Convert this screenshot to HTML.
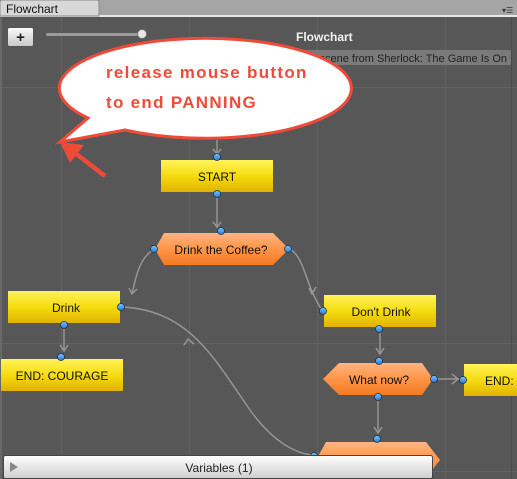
<!DOCTYPE html>
<html><head><meta charset="utf-8"><style>
body{margin:0;width:517px;height:479px;overflow:hidden;background:#575757;font-family:"Liberation Sans",sans-serif}
</style></head><body>
<svg width="517" height="479" viewBox="0 0 517 479" xmlns="http://www.w3.org/2000/svg" style="position:absolute;left:0;top:0">
<defs>
<linearGradient id="y" x1="0" y1="0" x2="0" y2="1"><stop offset="0" stop-color="#fff35a"/><stop offset="0.5" stop-color="#f5dc10"/><stop offset="1" stop-color="#e0b200"/></linearGradient>
<linearGradient id="o" x1="0" y1="0" x2="0" y2="1"><stop offset="0" stop-color="#ffb482"/><stop offset="0.5" stop-color="#ff9548"/><stop offset="1" stop-color="#f47a22"/></linearGradient>
<linearGradient id="b" x1="0" y1="0" x2="0" y2="1"><stop offset="0" stop-color="#7cc4ff"/><stop offset="1" stop-color="#1f7de0"/></linearGradient>
<linearGradient id="v" x1="0" y1="0" x2="0" y2="1"><stop offset="0" stop-color="#ffffff"/><stop offset="1" stop-color="#cfcfcf"/></linearGradient>
<linearGradient id="btn" x1="0" y1="0" x2="0" y2="1"><stop offset="0" stop-color="#fafafa"/><stop offset="1" stop-color="#c8c8c8"/></linearGradient>
</defs>
<rect width="517" height="479" fill="#575757"/>
<g stroke="#626262" stroke-width="1">
<line x1="61.5" y1="16" x2="61.5" y2="479"/><line x1="189.5" y1="16" x2="189.5" y2="479"/><line x1="317.5" y1="16" x2="317.5" y2="479"/><line x1="445.5" y1="16" x2="445.5" y2="479"/>
<line x1="0" y1="87.5" x2="517" y2="87.5"/><line x1="0" y1="343.5" x2="517" y2="343.5"/><line x1="0" y1="471.5" x2="517" y2="471.5"/>
</g>
<line x1="1" y1="16" x2="1" y2="479" stroke="#7a7a7a"/>
<line x1="511.5" y1="16" x2="511.5" y2="479" stroke="#4a4a4a"/>
<rect x="0" y="0" width="517" height="16" fill="#a5a5a5"/>
<rect x="0" y="15" width="517" height="2" fill="#e8e8e8"/>
<path d="M0 16 V2 Q0 0 2 0 H97 Q99 0 99 2 V16 Z" fill="#d8d8d8" stroke="#8a8a8a"/>
<text x="6" y="13" font-size="12" fill="#111">Flowchart</text>
<text x="502" y="13" font-size="8" fill="#333">▾☰</text>
<rect x="7.5" y="27.5" width="26" height="19" rx="2" fill="url(#btn)" stroke="#555"/>
<text x="20.5" y="42" font-size="15" font-weight="bold" text-anchor="middle" fill="#222">+</text>
<rect x="46" y="33" width="96" height="3" rx="1.5" fill="#9a9a9a"/>
<circle cx="142" cy="34" r="4.5" fill="#e8e8e8" stroke="#777"/>
<text x="296" y="41" font-size="12" font-weight="bold" fill="#f2f2f2">Flowchart</text>
<rect x="300" y="50" width="211" height="15" fill="#7a7a7a"/>
<text x="507" y="62" font-size="11" fill="#222" text-anchor="end">ple scene from Sherlock: The Game Is On</text>
<g stroke="#959595" stroke-width="1.5" fill="none">
<path d="M217 140 V154"/><path d="M213 149 L217 154 L221 149"/>
<path d="M217 192 V226"/><path d="M213 222 L217 227 L221 222"/>
<path d="M154 249 C140 258 136 275 132 294"/><path d="M129 288 L132 294 L137 289"/>
<path d="M290 249 C305 258 305 285 322 310"/><path d="M309 288 L312 294 L316 287"/>
<path d="M64 323 V350"/><path d="M60 345 L64 351 L68 345"/>
<path d="M380 327 V354"/><path d="M376 348 L380 354 L384 348"/>
<path d="M434 379 H462"/><path d="M452 374 L458 379 L452 384"/>
<path d="M378 395 V433"/><path d="M374 427 L378 433 L382 427"/>
<path d="M122 307 C190 310 215 360 250 410 C275 445 300 455 315 455"/><path d="M184 345 L188 339 L194 344"/>
</g>
<rect x="161" y="160" width="112" height="32" fill="url(#y)"/>
<text x="217" y="181" font-size="12" text-anchor="middle" fill="#111">START</text>
<polygon points="155,249 164,233 273,233 289,249 273,265 164,265" fill="url(#o)"/>
<text x="221" y="254" font-size="12" text-anchor="middle" fill="#111">Drink the Coffee?</text>
<rect x="8" y="291" width="112" height="32" fill="url(#y)"/>
<text x="66" y="312" font-size="12" text-anchor="middle" fill="#111">Drink</text>
<rect x="324" y="295" width="112" height="32" fill="url(#y)"/>
<text x="381" y="316" font-size="12" text-anchor="middle" fill="#111">Don't Drink</text>
<rect x="1" y="359" width="122" height="32" fill="url(#y)"/>
<text x="62" y="380" font-size="12" text-anchor="middle" fill="#111">END: COURAGE</text>
<polygon points="323,379 339,363 422,363 433,379 422,395 339,395" fill="url(#o)"/>
<text x="379" y="384" font-size="12" text-anchor="middle" fill="#111">What now?</text>
<rect x="464" y="364" width="60" height="32" fill="url(#y)"/>
<text x="485" y="385" font-size="12" fill="#111">END: N</text>
<polygon points="316,460 326,442 426,442 440,460 426,478 326,478" fill="url(#o)"/>
<g fill="url(#b)" stroke="#234" stroke-width="0.8">
<circle cx="217" cy="157" r="3.5"/><circle cx="217" cy="194" r="3.5"/><circle cx="221" cy="231" r="3.5"/>
<circle cx="154" cy="249" r="3.5"/><circle cx="288" cy="249" r="3.5"/><circle cx="121" cy="307" r="3.5"/>
<circle cx="64" cy="325" r="3.5"/><circle cx="61" cy="357" r="3.5"/><circle cx="323" cy="311" r="3.5"/>
<circle cx="379" cy="329" r="3.5"/><circle cx="379" cy="361" r="3.5"/><circle cx="434" cy="379" r="3.5"/>
<circle cx="378" cy="397" r="3.5"/><circle cx="463" cy="380" r="3.5"/><circle cx="377" cy="439" r="3.5"/>
<circle cx="314" cy="456" r="3.5"/>
</g>
<rect x="3.5" y="455.5" width="429" height="23" rx="2" fill="url(#v)" stroke="#444"/>
<polygon points="10,462 10,472 18,467" fill="#888"/>
<text x="219" y="472" font-size="12" text-anchor="middle" fill="#222">Variables (1)</text>
<path d="M125 130 L60 142 L88 118 A146 50 0 1 1 125 130 Z" fill="#fff" stroke="#f04a3a" stroke-width="3" stroke-linejoin="miter"/>
<text x="106" y="78" font-size="17" font-weight="bold" fill="#f04a3a" letter-spacing="1.3">release mouse button</text>
<text x="106" y="108" font-size="17" font-weight="bold" fill="#f04a3a" letter-spacing="1.3">to end PANNING</text>
<line x1="105" y1="176" x2="75" y2="153" stroke="#ee4a38" stroke-width="4.5"/>
<polygon points="60,142 84,145 70,163" fill="#ee4a38"/>
</svg>
</body></html>
